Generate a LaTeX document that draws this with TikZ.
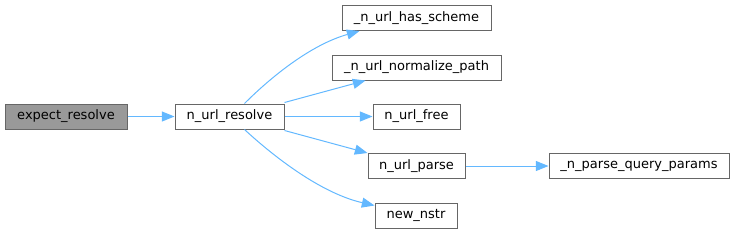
\documentclass[tikz,border=0pt]{standalone}
\usepackage{fontspec}
\setmainfont{DejaVu Sans}
\usetikzlibrary{arrows.meta,calc}
\definecolor{edgeblue}{RGB}{99,184,255}
\definecolor{nodegray}{RGB}{102,102,102}
\definecolor{fillgray}{RGB}{153,153,153}
\tikzset{
  fn/.style={draw=nodegray, fill=white, line width=0.75pt, inner sep=0pt, minimum height=25*0.75pt,
    font=\fontsize{9.75}{12}\selectfont, text=black},
  call/.style={draw=edgeblue, line width=0.75pt, -{Triangle[length=9.5pt,width=7.5pt]}},
}
\begin{document}
\begin{tikzpicture}[x=0.75pt,y=-0.75pt]
\useasboundingbox (0,0) rectangle (735,233);
\node[fn, fill=fillgray, minimum width=122*0.75pt] (e) at (66,116.5) {expect\_resolve};
\node[fn, minimum width=109*0.75pt] (r) at (229.5,116.5) {n\_url\_resolve};
\node[fn, minimum width=149*0.75pt] (hs) at (416.5,18) {\_n\_url\_has\_scheme};
\node[fn, minimum width=169*0.75pt] (np) at (416.5,67.5) {\_n\_url\_normalize\_path};
\node[fn, minimum width=87*0.75pt] (fr) at (416.5,116.5) {n\_url\_free};
\node[fn, minimum width=97*0.75pt] (pa) at (416.5,166) {n\_url\_parse};
\node[fn, minimum width=82*0.75pt] (ns) at (416,215.5) {new\_nstr};
\node[fn, minimum width=180*0.75pt] (qp) at (639,166) {\_n\_parse\_query\_params};

\draw[call] (e) -- (r);
\draw[call] ($(r.north)+(15,0)$) .. controls (270,78) and (310,45) .. ($(hs.south west)+(18,0)$);
\draw[call] ($(r.north east)+(0,-1)$) -- ($(np.south west)+(34,0)$);
\draw[call] (r) -- (fr);
\draw[call] ($(r.south east)+(0,1)$) -- ($(pa.north west)+(0,0)$);
\draw[call] ($(r.south)+(15,0)$) .. controls (272,155) and (320,193) .. ($(ns.north west)+(0,3)$);
\draw[call] (pa) -- (qp);
\end{tikzpicture}
\end{document}
